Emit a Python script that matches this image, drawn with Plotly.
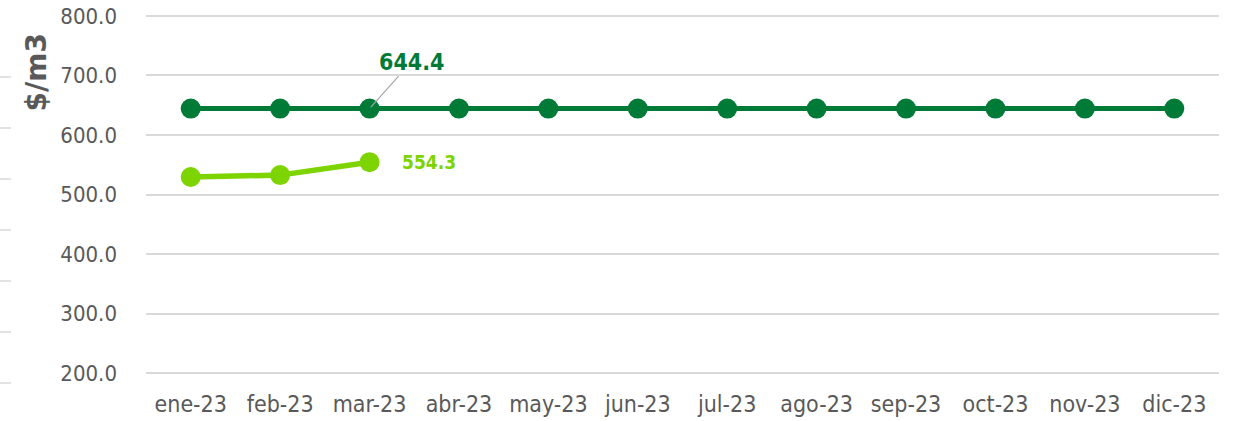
import plotly.graph_objects as go

months = ["ene-23", "feb-23", "mar-23", "abr-23", "may-23", "jun-23",
          "jul-23", "ago-23", "sep-23", "oct-23", "nov-23", "dic-23"]
serie_oscura = [644.4] * 12
serie_clara = [529.4, 532.6, 554.3]
y_ticks = [200, 300, 400, 500, 600, 700, 800]

DARK = "#007A37"
LIGHT = "#7ED400"
GRAY = "#595959"
FONT = "DejaVu Sans Condensed"

W, H = 1233, 421
L, T, R, B = 146, 13, 14, 45
PW, PH = W - L - R, H - T - B

def px_x(p):
    return (p - L) / PW

def px_y(p):
    return (H - B - p) / PH

fig = go.Figure()
fig.add_trace(go.Scatter(
    x=months, y=serie_oscura, mode="lines+markers",
    line=dict(color=DARK, width=5),
    marker=dict(color=DARK, size=20),
    showlegend=False, hoverinfo="skip"))
fig.add_trace(go.Scatter(
    x=months[:len(serie_clara)], y=serie_clara, mode="lines+markers",
    line=dict(color=LIGHT, width=5.5),
    marker=dict(color=LIGHT, size=20),
    showlegend=False, hoverinfo="skip"))

# data labels
fig.add_annotation(x=months[2], y=serie_oscura[2], text="<b>644.4</b>",
                   showarrow=True, arrowhead=0, arrowwidth=1.2,
                   arrowcolor="#A6A6A6", ax=42, ay=-47, standoff=2,
                   font=dict(family=FONT, size=23, color=DARK))
fig.add_annotation(x=months[2], y=serie_clara[2], text="<b>554.3</b>",
                   showarrow=False, xshift=59,
                   font=dict(family=FONT, size=19, color=LIGHT))

# axis title
fig.add_annotation(xref="paper", yref="paper", x=px_x(36), y=px_y(72.5),
                   xanchor="center", yanchor="middle",
                   text="<b>$/m3</b>", textangle=-90, showarrow=False,
                   font=dict(family="DejaVu Sans", size=28, color=GRAY))

# decorative tick fragments at the far left edge
for i in range(7):
    yp = 77 + i * 51
    fig.add_shape(type="line", xref="paper", yref="paper",
                  x0=px_x(0), x1=px_x(11), y0=px_y(yp), y1=px_y(yp),
                  line=dict(color="#D9D9D9", width=1.5))

fig.update_layout(
    width=W, height=H,
    margin=dict(l=L, r=R, t=T, b=B, autoexpand=False),
    paper_bgcolor="white", plot_bgcolor="white",
    font=dict(family=FONT, color=GRAY),
)
fig.update_xaxes(type="category", categoryorder="array", categoryarray=months,
                 range=[-0.5, 11.5], showgrid=False, showline=False,
                 zeroline=False, ticks="", ticklabelstandoff=12,
                 automargin=False,
                 tickfont=dict(family=FONT, size=23, color=GRAY))
fig.update_yaxes(range=[195, 805], tickvals=y_ticks,
                 ticktext=[f"{v:.1f}" for v in y_ticks],
                 showgrid=True, gridcolor="#D9D9D9", gridwidth=1.5,
                 zeroline=False, showline=False, ticks="",
                 ticklabelstandoff=28, automargin=False,
                 tickfont=dict(family=FONT, size=22, color=GRAY))

fig.write_html(
    "out.html",
    config={"displayModeBar": False},
    post_script="document.body.style.margin='0';document.body.style.overflow='hidden';",
)
